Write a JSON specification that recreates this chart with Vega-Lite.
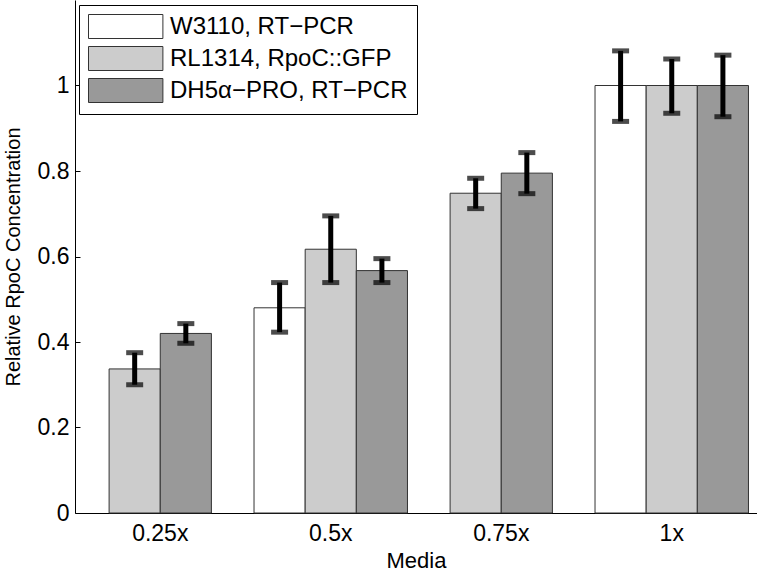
{
  "$schema": "https://vega.github.io/schema/vega-lite/v6.json",
  "width": 682,
  "height": 513,
  "autosize": {"type": "none"},
  "padding": {"left": 75, "top": 0, "right": 0, "bottom": 59},
  "background": "white",
  "config": {
    "view": {"stroke": null},
    "font": "Liberation Sans",
    "axis": {"labelFont": "Liberation Sans", "titleFont": "Liberation Sans", "labelColor": "black", "titleColor": "black", "domainColor": "black", "tickColor": "black", "grid": false, "titleFontWeight": "normal"},
    "legend": {"labelFont": "Liberation Sans"}
  },
  "data": {
    "values": [
      {"Media": "0.25x", "strain": "RL1314, RpoC::GFP", "value": 0.337, "lower": 0.300, "upper": 0.375},
      {"Media": "0.25x", "strain": "DH5α−PRO, RT−PCR", "value": 0.420, "lower": 0.397, "upper": 0.443},
      {"Media": "0.5x", "strain": "W3110, RT−PCR", "value": 0.480, "lower": 0.423, "upper": 0.539},
      {"Media": "0.5x", "strain": "RL1314, RpoC::GFP", "value": 0.617, "lower": 0.539, "upper": 0.695},
      {"Media": "0.5x", "strain": "DH5α−PRO, RT−PCR", "value": 0.567, "lower": 0.539, "upper": 0.595},
      {"Media": "0.75x", "strain": "RL1314, RpoC::GFP", "value": 0.748, "lower": 0.712, "upper": 0.783},
      {"Media": "0.75x", "strain": "DH5α−PRO, RT−PCR", "value": 0.795, "lower": 0.747, "upper": 0.843},
      {"Media": "1x", "strain": "W3110, RT−PCR", "value": 1.0, "lower": 0.916, "upper": 1.081},
      {"Media": "1x", "strain": "RL1314, RpoC::GFP", "value": 1.0, "lower": 0.935, "upper": 1.062},
      {"Media": "1x", "strain": "DH5α−PRO, RT−PCR", "value": 1.0, "lower": 0.927, "upper": 1.071}
    ]
  },
  "transform": [
    {"joinaggregate": [{"op": "count", "as": "n"}], "groupby": ["Media"]}
  ],
  "encoding": {
    "x": {
      "field": "Media", "type": "nominal",
      "sort": ["0.25x", "0.5x", "0.75x", "1x"],
      "scale": {"domain": ["0.25x", "0.5x", "0.75x", "1x"], "paddingInner": 0.1, "paddingOuter": 0.05},
      "axis": {"title": "Media", "labelAngle": 0, "labelFontSize": 23, "titleFontSize": 22, "ticks": false, "labelPadding": 9, "titlePadding": 5}
    },
    "y": {
      "field": "value", "type": "quantitative",
      "scale": {"domain": [0, 1.2], "nice": false, "zero": true},
      "axis": {"title": "Relative RpoC Concentration", "values": [0, 0.2, 0.4, 0.6, 0.8, 1], "format": "~g", "labelFontSize": 23, "titleFontSize": 20, "tickSize": -5, "labelPadding": 11, "titlePadding": 14}
    },
    "fill": {
      "field": "strain", "type": "nominal",
      "scale": {"domain": ["W3110, RT−PCR", "RL1314, RpoC::GFP", "DH5α−PRO, RT−PCR"], "range": ["#ffffff", "#cccccc", "#999999"]},
      "legend": {
        "title": null, "orient": "none", "legendX": 4, "legendY": 5,
        "symbolType": "M-1,-1H5.2V1H-1Z", "symbolSize": 576, "symbolStrokeColor": "#333333", "symbolStrokeWidth": 1,
        "symbolOpacity": 1, "labelOffset": 57, "labelFontSize": 24, "labelColor": "black", "labelLimit": 500,
        "rowPadding": 3, "padding": 9, "strokeColor": "black", "fillColor": "white"
      }
    }
  },
  "layer": [
    {
      "transform": [{"filter": "datum.n == 3"}],
      "encoding": {
        "xOffset": {
          "field": "strain", "type": "nominal",
          "scale": {"domain": ["W3110, RT−PCR", "RL1314, RpoC::GFP", "DH5α−PRO, RT−PCR"], "paddingInner": 0, "paddingOuter": 0}
        }
      },
      "layer": [
        {"mark": {"type": "bar", "stroke": "#333333", "strokeWidth": 1}},
        {
          "mark": {"type": "rule", "color": "black", "strokeWidth": 5},
          "encoding": {"y": {"field": "lower", "type": "quantitative"}, "y2": {"field": "upper"}, "fill": null}
        },
        {
          "mark": {"type": "tick", "color": "black", "size": 17, "thickness": 5, "orient": "horizontal"},
          "encoding": {"y": {"field": "lower", "type": "quantitative"}, "fill": null}
        },
        {
          "mark": {"type": "tick", "color": "black", "size": 17, "thickness": 5, "orient": "horizontal"},
          "encoding": {"y": {"field": "upper", "type": "quantitative"}, "fill": null}
        }
      ]
    },
    {
      "transform": [{"filter": "datum.n == 2"}],
      "encoding": {
        "xOffset": {
          "field": "strain", "type": "nominal",
          "scale": {"domain": ["RL1314, RpoC::GFP", "DH5α−PRO, RT−PCR"], "paddingInner": 0, "paddingOuter": 0.5}
        }
      },
      "layer": [
        {"mark": {"type": "bar", "stroke": "#333333", "strokeWidth": 1}},
        {
          "mark": {"type": "rule", "color": "black", "strokeWidth": 5},
          "encoding": {"y": {"field": "lower", "type": "quantitative"}, "y2": {"field": "upper"}, "fill": null}
        },
        {
          "mark": {"type": "tick", "color": "black", "size": 17, "thickness": 5, "orient": "horizontal"},
          "encoding": {"y": {"field": "lower", "type": "quantitative"}, "fill": null}
        },
        {
          "mark": {"type": "tick", "color": "black", "size": 17, "thickness": 5, "orient": "horizontal"},
          "encoding": {"y": {"field": "upper", "type": "quantitative"}, "fill": null}
        }
      ]
    }
  ],
  "resolve": {"scale": {"xOffset": "independent"}}
}
